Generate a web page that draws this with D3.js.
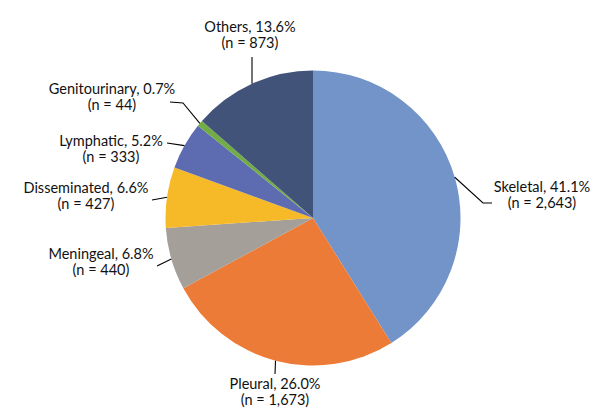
<!DOCTYPE html>
<html><head><meta charset="utf-8">
<script src="https://cdn.jsdelivr.net/npm/d3@7"></script>
<style>body{margin:0;background:#fff}svg{display:block}text{font-family:Lato,"Open Sans",sans-serif;font-size:14.5px;fill:#111}</style>
</head><body><svg id="c" width="600" height="415"></svg>
<script>
const categories = ["Skeletal","Pleural","Meningeal","Disseminated","Lymphatic","Genitourinary","Others"];
const counts = [2643,1673,440,427,333,44,873];
const percents = ["41.1%","26.0%","6.8%","6.6%","5.2%","0.7%","13.6%"];
const colors = ["#7394C9","#EB7B36","#A59F9A","#F6B928","#5D6BB0","#72AC45","#42537A"];
// label layout: text centre x, first baseline y, leader polyline start (label side) and elbow
const labelLayout = [
  {tx:542, ty:192, pts:[[492,203],[483,203]]},
  {tx:275, ty:389, pts:[[275,374]]},
  {tx:101, ty:259, pts:[[157,266]]},
  {tx:86,  ty:193, pts:[[152,200],[163,198]]},
  {tx:111, ty:146, pts:[[167,143]]},
  {tx:112, ty:94,  pts:[[170,102],[183,103]]},
  {tx:250, ty:32,  pts:[[252,57]]}
];
const cx=313, cy=218, r=147.5;
const svg=d3.select("#c");
const g=svg.append("g").attr("transform",`translate(${cx},${cy})`);
const pie=d3.pie().sort(null).value(d=>d.n);
const data=categories.map((c,i)=>({c,n:counts[i],p:percents[i],col:colors[i],lay:labelLayout[i]}));
const arcs=pie(data);
const arc=d3.arc().innerRadius(0).outerRadius(r);
g.selectAll("path.s").data(arcs).join("path").attr("class","s").attr("d",arc).attr("fill",d=>d.data.col);
const fmt=d3.format(",");
arcs.forEach(a=>{
  const mid=(a.startAngle+a.endAngle)/2;
  const ex=cx+r*Math.sin(mid), ey=cy-r*Math.cos(mid);
  const pts=a.data.lay.pts.concat([[ex,ey]]);
  svg.append("path").attr("d",d3.line()(pts)).attr("fill","none").attr("stroke","#000").attr("stroke-width",1.1);
  const t=svg.append("text").attr("text-anchor","middle");
  t.append("tspan").attr("x",a.data.lay.tx).attr("y",a.data.lay.ty).text(`${a.data.c}, ${a.data.p}`);
  t.append("tspan").attr("x",a.data.lay.tx).attr("y",a.data.lay.ty+16).text(`(n = ${fmt(a.data.n)})`);
});
</script></body></html>
